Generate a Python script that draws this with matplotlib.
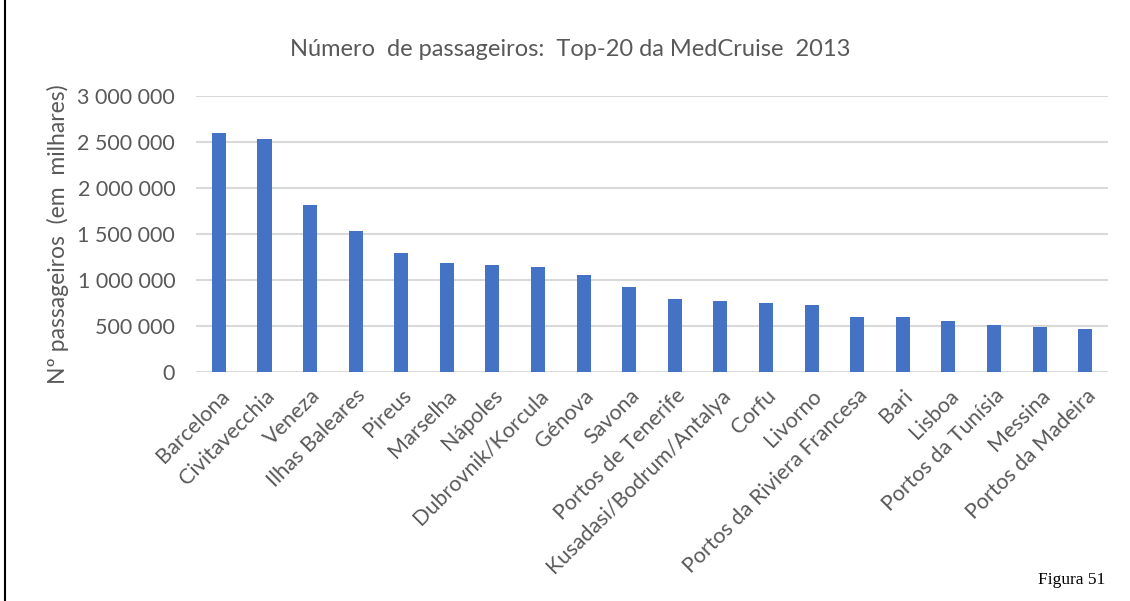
import matplotlib
matplotlib.use("Agg")
import matplotlib.pyplot as plt
from matplotlib.lines import Line2D
from matplotlib.ticker import FuncFormatter

portos = ["Barcelona", "Civitavecchia", "Veneza", "Ilhas Baleares", "Pireus",
          "Marselha", "Nápoles", "Dubrovnik/Korcula", "Génova", "Savona",
          "Portos de Tenerife", "Kusadasi/Bodrum/Antalya", "Corfu", "Livorno",
          "Portos da Riviera Francesa", "Bari", "Lisboa", "Portos da Tunísia",
          "Messina", "Portos da Madeira"]
passageiros = [2594000, 2530000, 1812000, 1529000, 1290000,
               1181000, 1160000, 1138000, 1051000, 921000,
               790000, 768000, 747000, 725000,
               594000, 594000, 550000, 507000,
               486000, 464000]
yticks = [0, 500000, 1000000, 1500000, 2000000, 2500000, 3000000]

plt.rcParams['font.family'] = ['Lato', 'DejaVu Sans']
grey = '#595959'

fig = plt.figure(figsize=(11.3, 6.01), dpi=100)
ax = fig.add_axes([0.1735, 0.3815, 0.807, 0.4593])

x = range(len(portos))
ax.bar(x, passageiros, width=0.31, color='#4472C4', zorder=3)

ax.set_ylim(0, 3000000)
ax.set_xlim(-0.5, len(portos) - 0.5)
ax.set_yticks(yticks)
ax.yaxis.set_major_formatter(FuncFormatter(lambda v, p: f"{int(v):,}".replace(",", " ")))
ax.grid(axis='y', color='#d9d9d9', linewidth=1.5, zorder=0)
for s in ax.spines.values():
    s.set_visible(False)
ax.tick_params(axis='both', length=0, colors=grey, labelsize=15.5)
ax.tick_params(axis='y', pad=15)
ax.set_xticks(list(x))
ax.set_xticklabels(portos, rotation=45, ha='right', rotation_mode='anchor', color=grey, fontsize=15.5)
ax.tick_params(axis='x', pad=10)

ax.set_ylabel("Nº passageiros  (em  milhares)", color=grey, fontsize=16.5, labelpad=6)
fig.text(0.505, 0.918, "Número  de passageiros:  Top-20 da MedCruise  2013",
         ha='center', va='center', color=grey, fontsize=17)

fig.text(0.978, 0.035, "Figura 51", ha='right', va='center',
         family='Liberation Serif', fontsize=12.5, color='black')
fig.add_artist(Line2D([0.0045, 0.0045], [0, 1], color='black', linewidth=1.5,
                      transform=fig.transFigure))

fig.savefig("out.png", dpi=100)
